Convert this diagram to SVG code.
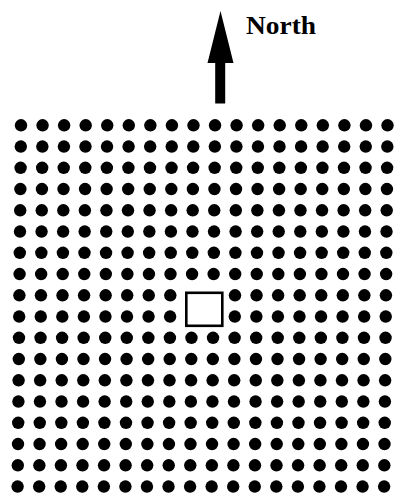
<svg xmlns="http://www.w3.org/2000/svg" xmlns:xlink="http://www.w3.org/1999/xlink" width="396" height="496" viewBox="0 0 396 496">
<style>
.dot{fill:#000}
.label{font-family:"Liberation Serif","Times New Roman",serif;font-weight:bold;font-size:25px;fill:#000}
</style>
<defs>
<circle id="d" class="dot" r="6.2"/>
<g id="rowL">
<use href="#d" x="21"/><use href="#d" x="42.56"/><use href="#d" x="64.12"/><use href="#d" x="85.68"/><use href="#d" x="107.24"/><use href="#d" x="128.8"/><use href="#d" x="150.36"/><use href="#d" x="171.92"/>
</g>
<g id="rowM">
<use href="#d" x="193.48"/><use href="#d" x="215.04"/>
</g>
<g id="rowR">
<use href="#d" x="236.6"/><use href="#d" x="258.16"/><use href="#d" x="279.72"/><use href="#d" x="301.28"/><use href="#d" x="322.84"/><use href="#d" x="344.4"/><use href="#d" x="365.96"/><use href="#d" x="387.52"/>
</g>
<g id="row"><use href="#rowL"/><use href="#rowM"/><use href="#rowR"/></g>
<g id="rowgap"><use href="#rowL"/><use href="#rowR"/></g>
</defs>
<rect width="396" height="496" fill="#fff"/>
<g id="north-arrow">
<rect x="215.2" y="60" width="10" height="43.5" fill="#000"/>
<polygon points="220.5,11 233.5,63 207.5,63" fill="#000"/>
<text class="label" x="246" y="33.5" textLength="70" lengthAdjust="spacingAndGlyphs">North</text>
</g>
<g id="grid">
<use href="#row" transform="translate(0,125.3)"/>
<use href="#row" transform="translate(-0.2,146.55)"/>
<use href="#row" transform="translate(-0.4,167.8)"/>
<use href="#row" transform="translate(-0.6,189.05)"/>
<use href="#row" transform="translate(-0.8,210.3)"/>
<use href="#row" transform="translate(-1.0,231.55)"/>
<use href="#row" transform="translate(-1.2,252.8)"/>
<use href="#row" transform="translate(-1.4,274.05)"/>
<use href="#rowgap" transform="translate(-1.6,295.3)"/>
<use href="#rowgap" transform="translate(-1.8,316.55)"/>
<use href="#row" transform="translate(-2.0,337.8)"/>
<use href="#row" transform="translate(-2.2,359.05)"/>
<use href="#row" transform="translate(-2.4,380.3)"/>
<use href="#row" transform="translate(-2.6,401.55)"/>
<use href="#row" transform="translate(-2.8,422.8)"/>
<use href="#row" transform="translate(-3.0,444.05)"/>
<use href="#row" transform="translate(-3.2,465.3)"/>
<use href="#row" transform="translate(-3.4,486.55)"/>
</g>
<g id="square">
<rect x="186.3" y="292.8" width="36" height="33" fill="#fff" stroke="#000" stroke-width="2.6"/>
</g>
</svg>
